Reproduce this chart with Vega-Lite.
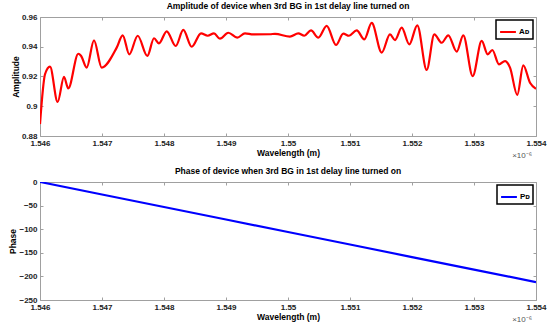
{
  "$schema": "https://vega.github.io/schema/vega-lite/v6.json",
  "padding": {"left": 8, "top": 1, "right": 4, "bottom": 2},
  "background": "white",
  "spacing": 5,
  "datasets": {
    "amp": [
      {"wl": 1.546000, "amp": 0.888, "series": "Aᴅ"},
      {"wl": 1.546081, "amp": 0.9215, "series": "Aᴅ"},
      {"wl": 1.546161, "amp": 0.9266, "series": "Aᴅ"},
      {"wl": 1.546285, "amp": 0.9029, "series": "Aᴅ"},
      {"wl": 1.546387, "amp": 0.9197, "series": "Aᴅ"},
      {"wl": 1.546456, "amp": 0.912, "series": "Aᴅ"},
      {"wl": 1.546618, "amp": 0.9353, "series": "Aᴅ"},
      {"wl": 1.546661, "amp": 0.934, "series": "Aᴅ"},
      {"wl": 1.546753, "amp": 0.926, "series": "Aᴅ"},
      {"wl": 1.546871, "amp": 0.9443, "series": "Aᴅ"},
      {"wl": 1.546995, "amp": 0.926, "series": "Aᴅ"},
      {"wl": 1.547237, "amp": 0.9394, "series": "Aᴅ"},
      {"wl": 1.547334, "amp": 0.9477, "series": "Aᴅ"},
      {"wl": 1.547440, "amp": 0.9349, "series": "Aᴅ"},
      {"wl": 1.547576, "amp": 0.9474, "series": "Aᴅ"},
      {"wl": 1.547731, "amp": 0.9338, "series": "Aᴅ"},
      {"wl": 1.547839, "amp": 0.9457, "series": "Aᴅ"},
      {"wl": 1.547919, "amp": 0.9423, "series": "Aᴅ"},
      {"wl": 1.548044, "amp": 0.9504, "series": "Aᴅ"},
      {"wl": 1.548189, "amp": 0.9405, "series": "Aᴅ"},
      {"wl": 1.548311, "amp": 0.9513, "series": "Aᴅ"},
      {"wl": 1.548447, "amp": 0.9400, "series": "Aᴅ"},
      {"wl": 1.548597, "amp": 0.9490, "series": "Aᴅ"},
      {"wl": 1.548705, "amp": 0.9474, "series": "Aᴅ"},
      {"wl": 1.548806, "amp": 0.9490, "series": "Aᴅ"},
      {"wl": 1.548903, "amp": 0.9454, "series": "Aᴅ"},
      {"wl": 1.549037, "amp": 0.9494, "series": "Aᴅ"},
      {"wl": 1.549182, "amp": 0.9461, "series": "Aᴅ"},
      {"wl": 1.549306, "amp": 0.9490, "series": "Aᴅ"},
      {"wl": 1.549440, "amp": 0.9483, "series": "Aᴅ"},
      {"wl": 1.549710, "amp": 0.9484, "series": "Aᴅ"},
      {"wl": 1.549790, "amp": 0.9487, "series": "Aᴅ"},
      {"wl": 1.550032, "amp": 0.9468, "series": "Aᴅ"},
      {"wl": 1.550166, "amp": 0.9490, "series": "Aᴅ"},
      {"wl": 1.550263, "amp": 0.9474, "series": "Aᴅ"},
      {"wl": 1.550371, "amp": 0.9510, "series": "Aᴅ"},
      {"wl": 1.550489, "amp": 0.9461, "series": "Aᴅ"},
      {"wl": 1.550624, "amp": 0.9540, "series": "Aᴅ"},
      {"wl": 1.550774, "amp": 0.9412, "series": "Aᴅ"},
      {"wl": 1.550892, "amp": 0.9488, "series": "Aᴅ"},
      {"wl": 1.550984, "amp": 0.9474, "series": "Aᴅ"},
      {"wl": 1.551108, "amp": 0.9510, "series": "Aᴅ"},
      {"wl": 1.551231, "amp": 0.9450, "series": "Aᴅ"},
      {"wl": 1.551350, "amp": 0.9560, "series": "Aᴅ"},
      {"wl": 1.551511, "amp": 0.9360, "series": "Aᴅ"},
      {"wl": 1.551645, "amp": 0.9483, "series": "Aᴅ"},
      {"wl": 1.551726, "amp": 0.9445, "series": "Aᴅ"},
      {"wl": 1.551834, "amp": 0.9528, "series": "Aᴅ"},
      {"wl": 1.551956, "amp": 0.9416, "series": "Aᴅ"},
      {"wl": 1.552085, "amp": 0.9544, "series": "Aᴅ"},
      {"wl": 1.552237, "amp": 0.9244, "series": "Aᴅ"},
      {"wl": 1.552360, "amp": 0.9483, "series": "Aᴅ"},
      {"wl": 1.552479, "amp": 0.9427, "series": "Aᴅ"},
      {"wl": 1.552585, "amp": 0.9477, "series": "Aᴅ"},
      {"wl": 1.552721, "amp": 0.9367, "series": "Aᴅ"},
      {"wl": 1.552827, "amp": 0.9477, "series": "Aᴅ"},
      {"wl": 1.552979, "amp": 0.9203, "series": "Aᴅ"},
      {"wl": 1.553124, "amp": 0.9439, "series": "Aᴅ"},
      {"wl": 1.553221, "amp": 0.9349, "series": "Aᴅ"},
      {"wl": 1.553295, "amp": 0.9378, "series": "Aᴅ"},
      {"wl": 1.553403, "amp": 0.9282, "series": "Aᴅ"},
      {"wl": 1.553500, "amp": 0.9304, "series": "Aᴅ"},
      {"wl": 1.553581, "amp": 0.9260, "series": "Aᴅ"},
      {"wl": 1.553698, "amp": 0.9076, "series": "Aᴅ"},
      {"wl": 1.553795, "amp": 0.9275, "series": "Aᴅ"},
      {"wl": 1.553903, "amp": 0.9158, "series": "Aᴅ"},
      {"wl": 1.554000, "amp": 0.9118, "series": "Aᴅ"}
    ],
    "phase": [
      {"wl": 1.546, "phase": 0, "series": "Pᴅ"},
      {"wl": 1.547, "phase": -26.5, "series": "Pᴅ"},
      {"wl": 1.548, "phase": -53, "series": "Pᴅ"},
      {"wl": 1.549, "phase": -79.5, "series": "Pᴅ"},
      {"wl": 1.550, "phase": -106, "series": "Pᴅ"},
      {"wl": 1.551, "phase": -132.5, "series": "Pᴅ"},
      {"wl": 1.552, "phase": -159, "series": "Pᴅ"},
      {"wl": 1.553, "phase": -185.5, "series": "Pᴅ"},
      {"wl": 1.554, "phase": -212, "series": "Pᴅ"}
    ]
  },
  "vconcat": [
    {
      "width": 496,
      "height": 119,
      "title": {"text": "Amplitude of device when 3rd BG in 1st delay line turned on"},
      "layer": [
        {
          "data": {"name": "amp"},
          "mark": {"type": "line", "interpolate": "monotone", "strokeWidth": 2.2, "clip": true},
          "encoding": {
            "x": {"field": "wl", "type": "quantitative",
                  "scale": {"domain": [1.546, 1.554], "nice": false, "zero": false},
                  "axis": {"title": "Wavelength (m)", "format": ".3~f", "values": [1.546, 1.547, 1.548, 1.549, 1.55, 1.551, 1.552, 1.553, 1.554]}},
            "y": {"field": "amp", "type": "quantitative",
                  "scale": {"domain": [0.88, 0.96], "nice": false, "zero": false},
                  "axis": {"title": "Amplitude", "format": ".2~f", "values": [0.88, 0.9, 0.92, 0.94, 0.96]}},
            "color": {"field": "series", "type": "nominal", "scale": {"range": ["#ff0000"]},
                      "legend": {"title": null, "orient": "top-right"}}
          }
        },
        {
          "data": {"name": "amp"},
          "mark": {"type": "line", "opacity": 0},
          "encoding": {
            "x": {"field": "wl", "type": "quantitative",
                  "axis": {"orient": "top", "labels": false, "title": null, "values": [1.546, 1.547, 1.548, 1.549, 1.55, 1.551, 1.552, 1.553, 1.554]}},
            "y": {"field": "amp", "type": "quantitative",
                  "axis": {"orient": "right", "labels": false, "title": null, "values": [0.88, 0.9, 0.92, 0.94, 0.96]}}
          }
        },
        {
          "data": {"values": [{"t": "×10⁻⁶"}]},
          "mark": {"type": "text", "align": "right", "baseline": "top", "dy": 16, "dx": -4, "fontSize": 8, "color": "#555"},
          "encoding": {
            "text": {"field": "t"},
            "x": {"datum": 1.554, "type": "quantitative", "axis": null},
            "y": {"datum": 0.88, "type": "quantitative", "axis": null}
          }
        }
      ],
      "resolve": {"axis": {"x": "independent", "y": "independent"}}
    },
    {
      "width": 496,
      "height": 118,
      "title": {"text": "Phase of device when 3rd BG in 1st delay line turned on"},
      "layer": [
        {
          "data": {"name": "phase"},
          "mark": {"type": "line", "strokeWidth": 2.2, "clip": true},
          "encoding": {
            "x": {"field": "wl", "type": "quantitative",
                  "scale": {"domain": [1.546, 1.554], "nice": false, "zero": false},
                  "axis": {"title": "Wavelength (m)", "format": ".3~f", "values": [1.546, 1.547, 1.548, 1.549, 1.55, 1.551, 1.552, 1.553, 1.554]}},
            "y": {"field": "phase", "type": "quantitative",
                  "scale": {"domain": [-250, 0], "nice": false, "zero": false},
                  "axis": {"title": "Phase", "values": [-250, -200, -150, -100, -50, 0]}},
            "color": {"field": "series", "type": "nominal", "scale": {"range": ["#0000ff"]},
                      "legend": {"title": null, "orient": "top-right"}}
          }
        },
        {
          "data": {"name": "phase"},
          "mark": {"type": "line", "opacity": 0},
          "encoding": {
            "x": {"field": "wl", "type": "quantitative",
                  "axis": {"orient": "top", "labels": false, "title": null, "values": [1.546, 1.547, 1.548, 1.549, 1.55, 1.551, 1.552, 1.553, 1.554]}},
            "y": {"field": "phase", "type": "quantitative",
                  "axis": {"orient": "right", "labels": false, "title": null, "values": [-250, -200, -150, -100, -50, 0]}}
          }
        },
        {
          "data": {"values": [{"t": "×10⁻⁶"}]},
          "mark": {"type": "text", "align": "right", "baseline": "top", "dy": 16, "dx": -4, "fontSize": 8, "color": "#555"},
          "encoding": {
            "text": {"field": "t"},
            "x": {"datum": 1.554, "type": "quantitative", "axis": null},
            "y": {"datum": -250, "type": "quantitative", "axis": null}
          }
        }
      ],
      "resolve": {"axis": {"x": "independent", "y": "independent"}}
    }
  ],
  "resolve": {"scale": {"color": "independent"}, "legend": {"color": "independent"}},
  "config": {
    "font": "Liberation Sans",
    "view": {"stroke": "#a0a0a0", "strokeWidth": 1},
    "title": {"fontSize": 8.5, "fontWeight": "bold", "color": "#000", "offset": 3, "anchor": "middle"},
    "axis": {
      "domain": false,
      "grid": false,
      "tickSize": -3,
      "tickColor": "#a0a0a0",
      "labelFlush": false,
      "labelOverlap": false,
      "labelFontSize": 8,
      "labelFontWeight": "bold",
      "labelColor": "#222",
      "labelPadding": 6,
      "titleFontSize": 8.5,
      "titleFontWeight": "bold",
      "titleColor": "#000",
      "titlePadding": 1
    },
    "legend": {
      "strokeColor": "#000",
      "strokeWidth": 1.5,
      "fillColor": "white",
      "padding": 3,
      "offset": 3,
      "symbolType": "stroke",
      "symbolSize": 250,
      "symbolStrokeWidth": 2,
      "labelFontSize": 8,
      "labelFontWeight": "bold",
      "labelColor": "#000",
      "labelOffset": 2
    }
  }
}
